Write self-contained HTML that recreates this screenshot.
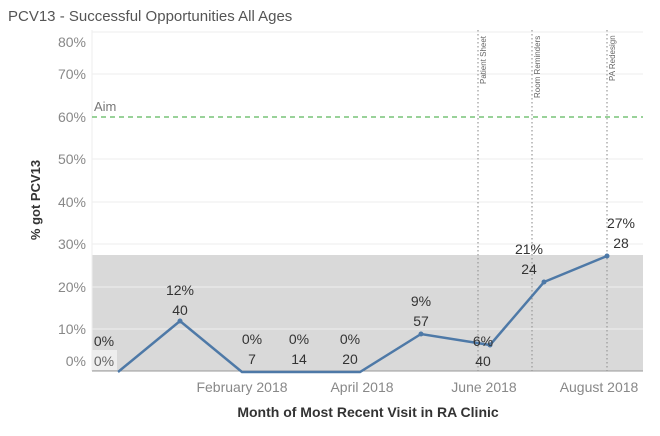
<!DOCTYPE html>
<html><head><style>
body{margin:0;background:#fff;}
svg{font-family:"Liberation Sans",sans-serif;}
</style></head><body>
<svg width="660" height="431" xmlns="http://www.w3.org/2000/svg">
<text x="8" y="21" font-size="15" fill="#555">PCV13 - Successful Opportunities All Ages</text>
<rect x="92" y="255" width="551" height="116" fill="#d9d9d9"/>
<g stroke="#eee" stroke-width="1">
<line x1="92" y1="32" x2="643" y2="32"/><line x1="92" y1="74" x2="643" y2="74"/>
<line x1="92" y1="159" x2="643" y2="159"/><line x1="92" y1="202" x2="643" y2="202"/>
<line x1="92" y1="244" x2="643" y2="244"/><line x1="92" y1="287" x2="643" y2="287"/>
<line x1="92" y1="329" x2="643" y2="329"/>
</g>
<line x1="92" y1="30" x2="92" y2="371" stroke="#eee"/>
<line x1="92" y1="371" x2="643" y2="371" stroke="#999"/>
<line x1="92" y1="117" x2="643" y2="117" stroke="#5cb85c" stroke-width="1.3" stroke-dasharray="5,4"/>
<text x="94" y="111" font-size="13" fill="#777">Aim</text>
<g stroke="#999" stroke-dasharray="1.5,2.5" stroke-width="1.2">
<line x1="478" y1="30" x2="478" y2="371"/><line x1="532" y1="30" x2="532" y2="371"/><line x1="607" y1="30" x2="607" y2="371"/>
</g>
<g font-size="8" fill="#666">
<text transform="translate(486,84) rotate(-90)">Patient Sheet</text>
<text transform="translate(540,98) rotate(-90)">Room Reminders</text>
<text transform="translate(615,81) rotate(-90)">PA Redesign</text>
</g>
<g font-size="14" fill="#888" text-anchor="end">
<text x="86" y="47">80%</text><text x="86" y="79">70%</text><text x="86" y="122">60%</text>
<text x="86" y="164">50%</text><text x="86" y="207">40%</text><text x="86" y="249">30%</text>
<text x="86" y="292">20%</text><text x="86" y="334">10%</text><text x="86" y="366">0%</text>
</g>
<text transform="translate(40,200) rotate(-90)" font-size="13" fill="#333" text-anchor="middle" font-weight="bold">% got PCV13</text>
<g font-size="14" fill="#888" text-anchor="middle">
<text x="242" y="392">February 2018</text><text x="362" y="392">April 2018</text>
<text x="484" y="392">June 2018</text><text x="599" y="392">August 2018</text>
</g>
<text x="368" y="417" font-size="14" fill="#333" text-anchor="middle" font-weight="bold">Month of Most Recent Visit in RA Clinic</text>
<rect x="92" y="350" width="25" height="20" fill="#eee"/>
<polyline points="118,372 180,321 242,372 299,372 360,372 421,334 490,345 544,282 607,256" fill="none" stroke="#4e79a7" stroke-width="2.5"/>
<g fill="#4e79a7"><circle cx="180" cy="321" r="2.5"/><circle cx="421" cy="334" r="2.5"/><circle cx="490" cy="345" r="2.5"/><circle cx="544" cy="282" r="2.5"/><circle cx="607" cy="256" r="2.5"/></g>
<g font-size="14" fill="#333" text-anchor="middle">
<text x="104" y="346">0%</text><text x="104" y="366" fill="#666">0%</text>
<text x="180" y="295">12%</text><text x="180" y="315">40</text>
<text x="252" y="344">0%</text><text x="252" y="364">7</text>
<text x="299" y="344">0%</text><text x="299" y="364">14</text>
<text x="350" y="344">0%</text><text x="350" y="364">20</text>
<text x="421" y="306">9%</text><text x="421" y="326">57</text>
<text x="483" y="346">6%</text><text x="483" y="366">40</text>
<text x="529" y="254">21%</text><text x="529" y="274">24</text>
<text x="621" y="228">27%</text><text x="621" y="248">28</text>
</g>
</svg>
</body></html>
